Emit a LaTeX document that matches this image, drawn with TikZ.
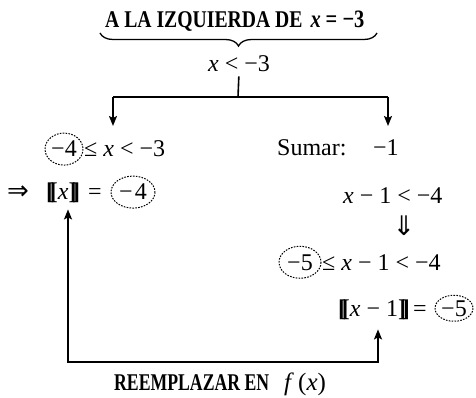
\documentclass[tikz,border=0pt]{standalone}
\usepackage{graphicx}
\usepackage{fontspec}
\setmainfont{Liberation Serif}
\newfontfamily\titbf[FakeStretch=0.82]{Liberation Serif Bold}
\newfontfamily\symf{DejaVu Sans}
\newcommand{\lbrk}{{\bfseries[\kern-0.18em[}}
\newcommand{\rbrk}{{\bfseries]\kern-0.18em]}}
\usetikzlibrary{arrows.meta,decorations.pathreplacing}
\begin{document}
\begin{tikzpicture}[x=1pt,y=-1pt,
  txt/.style={inner sep=0pt, font=\fontsize{24}{28}\selectfont},
  ttl/.style={inner sep=0pt, font=\fontsize{24}{28}\selectfont\titbf},
  circd/.style={line width=1pt, dash pattern=on 1.6pt off 1.3pt},
  conn/.style={line width=1.6pt},
  tip/.style={-{Stealth[length=10pt,width=8pt,inset=2pt]}},
  tips/.style={{Stealth[length=10pt,width=8pt,inset=2pt]}-{Stealth[length=10pt,width=8pt,inset=2pt]}}]
\useasboundingbox (0,0) rectangle (476,398);

% title and brace
\node[ttl, anchor=base west] (tit) at (105,28) {A LA IZQUIERDA DE\hspace{8pt}{\fontsize{25}{28}\selectfont\bfseries\itshape x} {\fontsize{25}{28}\selectfont\bfseries = −3}};
\draw[line width=1.3pt, decorate, decoration={brace, mirror, amplitude=13pt}] (100,33) -- (377,33);
\node[txt, anchor=base] (x3) at (239,72) {\textit{x} < −3};

% split connector
\coordinate (sp) at (238,97);
\coordinate (hl) at (113,97);
\coordinate (hr) at (388,97);
\coordinate (al) at (113,126);
\coordinate (ar) at (388,126);
\draw[conn, shorten <=4pt] (x3.south) -- (sp);
\draw[conn] (hl) -- (hr);
\draw[conn, tip] (hl) -- (al);
\draw[conn, tip] (hr) -- (ar);

% left column
\node[txt, anchor=base] (m4a) at (64,157) {−4};
\draw[circd] (m4a.center) ellipse (19 and 16);
\node[txt, anchor=base west] (r1) at (84,157) {≤ \textit{x} < −3};

\node[txt, anchor=base west, font=\fontsize{26}{28}\symf] (imp) at (7,200) {⇒};
\node[txt, anchor=base west] (br1) at (46,200) {\lbrk\textit{x}\rbrk};
\node[txt, anchor=base west] (eq1) at (88,200) {=};
\node[txt, anchor=base] (m4b) at (133,200) {−\hspace{2pt}4};
\draw[circd] (m4b.center) ellipse (22 and 16);

% right column
\node[txt, anchor=base west] (sum) at (277,156) {Sumar:};
\node[txt, anchor=base west] (m1) at (373,156) {−1};
\node[txt, anchor=base west] (r2) at (343,203) {\textit{x} − 1 < −4};
\node[txt, anchor=base, font=\fontsize{27}{28}\symf] (dn) at (404,235) {⇓};
\node[txt, anchor=base] (m5a) at (300,270) {−5};
\draw[circd] (m5a.center) ellipse (21 and 16);
\node[txt, anchor=base west] (r3) at (322,270) {≤ \textit{x} − 1 < −4};
\node[txt, anchor=base west] (br2) at (338,316) {\lbrk\textit{x} − 1\rbrk};
\node[txt, anchor=base west] (eq2) at (413,316) {=};
\node[txt, anchor=base] (m5b) at (454,316) {−5};
\draw[circd] (m5b.center) ellipse (19 and 13);

% return connector
\coordinate (cL) at (68,362);
\coordinate (cR) at (378,362);
\draw[conn, tips, shorten <=10pt, shorten >=6pt] (cR |- br2.south) -- (cR) -- (cL) -- (cL |- br1.south);

\node[ttl, anchor=base west] (ree) at (114,390) {\scalebox{0.9}[1]{REEMPLAZAR EN}};
\node[txt, anchor=base west, font=\fontsize{25}{28}\selectfont] (fx) at (284,390) {\textit{f}\,(\textit{x})};
\end{tikzpicture}
\end{document}
